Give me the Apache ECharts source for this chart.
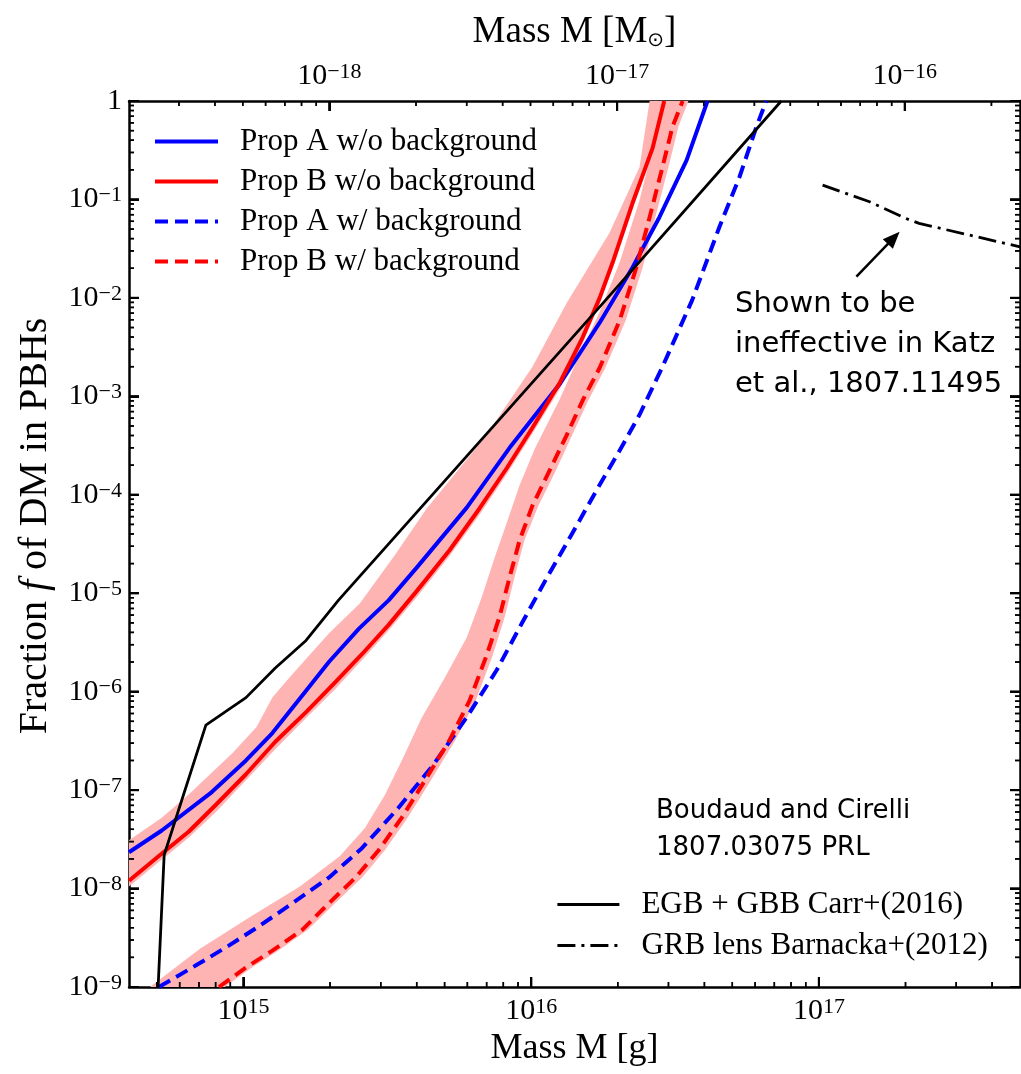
<!DOCTYPE html>
<html>
<head>
<meta charset="utf-8">
<script src="https://cdn.jsdelivr.net/npm/echarts@6/dist/echarts.min.js"></script>
<style>
html,body{margin:0;padding:0;background:#ffffff;}
#chart{width:1021px;height:1074px;}
</style>
</head>
<body>
<div id="chart"></div>
<script>
// ---------------- data ----------------
const MSUN_G = 1.989e33;           // grams per solar mass (top axis)
const massMin = 4e14, massMax = 5e17;
const fMin = 1e-9, fMax = 1;

const xMajorTicks = [1e15, 1e16, 1e17];
const xMinorTicks = [5e14,6e14,7e14,8e14,9e14,2e15,3e15,4e15,5e15,6e15,7e15,8e15,9e15,
  2e16,3e16,4e16,5e16,6e16,7e16,8e16,9e16,2e17,3e17,4e17];
const topMajorTicks = [1e-18, 1e-17, 1e-16];
const topMinorTicks = [3e-19,4e-19,5e-19,6e-19,7e-19,8e-19,9e-19,2e-18,3e-18,4e-18,5e-18,6e-18,7e-18,8e-18,9e-18,
  2e-17,3e-17,4e-17,5e-17,6e-17,7e-17,8e-17,9e-17,2e-16];
const yMajorTicks = [1e-9,1e-8,1e-7,1e-6,1e-5,1e-4,1e-3,1e-2,1e-1,1];
const yMinorMultipliers = [2,3,4,5,6,7,8,9];
const yMinorDecades = [1e-9,1e-8,1e-7,1e-6,1e-5,1e-4,1e-3,1e-2,1e-1];

const propANoBgM = [4.0e14,5.2e14,7.76e14,1.02e15,1.26e15,1.65e15,1.98e15,2.52e15,3.20e15,4.0e15,5.97e15,8.41e15,1.26e16,1.73e16,2.25e16,2.79e16,3.47e16,4.1e16];
const propANoBgF = [2.34e-8,3.89e-8,9.55e-8,2.0e-7,3.8e-7,1.02e-6,2.0e-6,4.37e-6,8.5e-6,1.82e-5,7.4e-5,3.0e-4,1.35e-3,5.6e-3,2.04e-2,6.6e-2,0.251,1.0];

const propBNoBgM = [4.0e14,5.08e14,6.46e14,8.02e14,1.02e15,1.29e15,1.65e15,2.09e15,2.58e15,3.20e15,4.0e15,5.21e15,6.62e15,8.22e15,1.01e16,1.26e16,1.51e16,1.73e16,1.92e16,2.25e16,2.64e16,2.90e16];
const propBNoBgF = [1.2e-8,2.14e-8,3.8e-8,7.1e-8,1.45e-7,3.1e-7,6.2e-7,1.26e-6,2.4e-6,4.8e-6,1.05e-5,2.75e-5,7.3e-5,1.86e-4,4.8e-4,1.39e-3,3.98e-3,1.0e-2,2.3e-2,9.2e-2,0.33,1.0];

const propABgM = [5.08e14,6.84e14,8.89e14,1.14e15,1.45e15,1.98e15,2.58e15,3.44e15,4.55e15,5.97e15,7.59e15,9.33e15,1.13e16,1.39e16,1.69e16,2.03e16,2.38e16,2.86e16,3.63e16,4.51e16,5.30e16,6.07e16,6.56e16];
const propABgF = [1e-9,1.66e-9,2.63e-9,4.2e-9,6.8e-9,1.29e-8,2.57e-8,6.5e-8,1.78e-7,5.5e-7,1.66e-6,5.1e-6,1.41e-5,4.07e-5,1.12e-4,2.82e-4,6.5e-4,2.0e-3,9.55e-3,5.25e-2,0.17,0.55,1.0];

const propBBgM = [8.22e14,1.02e15,1.26e15,1.60e15,1.98e15,2.45e15,2.95e15,3.55e15,4.34e15,5.21e15,6.11e15,7.0e15,7.76e15,8.41e15,9.12e15,1.01e16,1.16e16,1.33e16,1.51e16,1.73e16,2.03e16,2.32e16,2.58e16,2.86e16,3.10e16,3.36e16];
const propBBgF = [1e-9,1.58e-9,2.34e-9,3.80e-9,7.08e-9,1.29e-8,2.45e-8,5.25e-8,1.35e-7,3.24e-7,8.13e-7,2.34e-6,5.75e-6,1.45e-5,3.47e-5,7.76e-5,1.78e-4,4.07e-4,9.1e-4,1.95e-3,5.9e-3,2.04e-2,6.6e-2,0.214,0.55,1.0];

const carrM = [5.05e14,5.30e14,7.40e14,1.02e15,1.29e15,1.65e15,2.14e15,1.73e16,7.40e16];
const carrF = [1e-9,2.19e-8,4.57e-7,8.7e-7,1.74e-6,3.31e-6,8.5e-6,8.1e-3,1.0];

const barnackaM = [1.03e17,1.50e17,2.0e17,2.23e17,3.33e17,5.0e17];
const barnackaF = [0.140,0.0948,0.0643,0.0571,0.0435,0.033];

const bandNoBgUpperM = [4.0e14,5.2e14,6.52e14,9.18e14,1.11e15,1.26e15,1.45e15,1.98e15,2.54e15,3.36e15,4.34e15,5.64e15,7.0e15,1.01e16,1.33e16,1.87e16,2.38e16,2.58e16];
const bandNoBgUpperF = [3.09e-8,5.25e-8,9.3e-8,2.4e-7,4.37e-7,8.7e-7,1.41e-6,3.9e-6,7.9e-6,2.45e-5,7.3e-5,1.86e-4,4.07e-4,2.0e-3,8.9e-3,4.57e-2,0.214,1.0];
const bandNoBgLowerM = [4.0e14,5.08e14,6.46e14,8.02e14,1.02e15,1.29e15,1.65e15,2.09e15,2.58e15,3.20e15,4.0e15,5.21e15,6.62e15,8.22e15,1.01e16,1.26e16,1.51e16,1.73e16,1.92e16,2.25e16,2.64e16,3.02e16];
const bandNoBgLowerF = [1.05e-8,1.86e-8,3.3e-8,6.0e-8,1.26e-7,2.6e-7,5.4e-7,1.07e-6,2.09e-6,4.2e-6,9.1e-6,2.4e-5,6.3e-5,1.62e-4,4.2e-4,1.2e-3,3.47e-3,8.7e-3,2.0e-2,7.9e-2,0.29,1.0];

const bandBgUpperM = [4.73e14,7.06e14,1.05e15,1.57e15,2.16e15,2.64e15,3.10e15,3.55e15,4.16e15,5.0e15,5.97e15,6.73e15,7.46e15,8.28e15,9.12e15,1.03e16,1.26e16,1.47e16,1.73e16,2.03e16,2.38e16,2.68e16,2.84e16];
const bandBgUpperF = [1e-9,2.45e-9,5.1e-9,1.05e-8,2.13e-8,4.1e-8,8.9e-8,2.0e-7,5.4e-7,1.38e-6,3.55e-6,9.1e-6,2.29e-5,5.5e-5,1.26e-4,2.95e-4,9.5e-4,2.63e-3,7.2e-3,2.3e-2,9.8e-2,0.40,1.0];
const bandBgLowerM = [8.61e14,1.07e15,1.32e15,1.67e15,2.08e15,2.58e15,3.10e15,3.72e15,4.55e15,5.46e15,6.41e15,7.35e15,8.09e15,8.75e15,9.48e15,1.06e16,1.22e16,1.39e16,1.58e16,1.81e16,2.13e16,2.44e16,2.70e16,3.0e16,3.25e16,3.52e16];
const bandBgLowerF = [1e-9,1.58e-9,2.34e-9,3.8e-9,7.1e-9,1.29e-8,2.45e-8,5.25e-8,1.35e-7,3.24e-7,8.1e-7,2.34e-6,5.75e-6,1.45e-5,3.47e-5,7.8e-5,1.78e-4,4.07e-4,9.1e-4,1.95e-3,5.9e-3,2.04e-2,6.6e-2,0.214,0.55,1.0];

const arrowM = [1.35e17, 1.82e17];
const arrowF = [0.0164, 0.0407];

const legendTopNames = ['Prop A w/o background','Prop B w/o background','Prop A w/ background','Prop B w/ background'];
const legendBottomNames = ['EGB + GBB Carr+(2016)','GRB lens Barnacka+(2012)'];

// ---------------- helpers ----------------
const SERIF = '"Liberation Serif", "DejaVu Serif", serif';
const HAND = '"DejaVu Sans", "Noto Sans", sans-serif';
const BAND = '#ffb4b4';

const yMinorTicks = [];
yMinorDecades.forEach(function(d){ yMinorMultipliers.forEach(function(k){ yMinorTicks.push(k * d); }); });

function pairs(ms, fs) { return ms.map(function(m, i){ return [m, fs[i]]; }); }
function keepIn(arr, lo, hi) { return arr.filter(function(v){ return v >= lo * 0.9999 && v <= hi * 1.0001; }); }

function powLabel(v) {
  const e = Math.round(Math.log10(v));
  if (e === 0) return '{b|1}';
  return '{b|10}{s|' + String(e).replace('-', '\u2212') + '}';
}
const labelRich = {
  b: { fontFamily: SERIF, fontSize: 30, lineHeight: 30, color: '#000' },
  s: { fontFamily: SERIF, fontSize: 22, lineHeight: 12, verticalAlign: 'top', color: '#000' }
};

// tick items: [mass, f, side(0 bottom,1 top,2 left,3 right), length, width]
const tickItems = [];
keepIn(xMajorTicks, massMin, massMax).forEach(function(m){ tickItems.push([m, fMin, 0, 10, 2]); });
keepIn(xMinorTicks, massMin, massMax).forEach(function(m){ tickItems.push([m, fMin, 0, 5, 1.5]); });
keepIn(topMajorTicks, massMin / MSUN_G, massMax / MSUN_G).forEach(function(v){ tickItems.push([v * MSUN_G, fMax, 1, 10, 2]); });
keepIn(topMinorTicks, massMin / MSUN_G, massMax / MSUN_G).forEach(function(v){ tickItems.push([v * MSUN_G, fMax, 1, 5, 1.5]); });
keepIn(yMajorTicks, fMin, fMax).forEach(function(f){ tickItems.push([massMin, f, 2, 10, 2]); tickItems.push([massMax, f, 3, 10, 2]); });
keepIn(yMinorTicks, fMin, fMax).forEach(function(f){ tickItems.push([massMin, f, 2, 5, 1.5]); tickItems.push([massMax, f, 3, 5, 1.5]); });

function tickRectPoints(p, side, len, w) {
  let x, y, ww, hh;
  if (side === 0) { x = p[0] - w / 2; y = p[1] - len; ww = w; hh = len; }
  else if (side === 1) { x = p[0] - w / 2; y = p[1]; ww = w; hh = len; }
  else if (side === 2) { x = p[0]; y = p[1] - w / 2; ww = len; hh = w; }
  else { x = p[0] - len; y = p[1] - w / 2; ww = len; hh = w; }
  return [[x, y], [x + ww, y], [x + ww, y + hh], [x, y + hh]];
}

function bandSeries(upM, upF, loM, loF) {
  return {
    type: 'custom', coordinateSystem: 'cartesian2d', xAxisIndex: 0, yAxisIndex: 0,
    silent: true, z: 1,
    data: [[upM[0], upF[0]]],
    renderItem: function(params, api) {
      const pts = [];
      for (let i = 0; i < upM.length; i++) pts.push(api.coord([upM[i], upF[i]]));
      for (let i = loM.length - 1; i >= 0; i--) pts.push(api.coord([loM[i], loF[i]]));
      const cs = params.coordSys;
      return {
        type: 'polygon', shape: { points: pts }, style: { fill: BAND, stroke: null },
        clipPath: { type: 'rect', shape: { x: cs.x, y: cs.y, width: cs.width, height: cs.height } }
      };
    }
  };
}

function tickSeries() {
  return {
    type: 'custom', coordinateSystem: 'cartesian2d', xAxisIndex: 0, yAxisIndex: 0,
    silent: true, z: 9, clip: false,
    encode: { x: 0, y: 1 },
    data: tickItems,
    renderItem: function(params, api) {
      const p = api.coord([api.value(0), api.value(1)]);
      const pts = tickRectPoints(p, api.value(2), api.value(3), api.value(4));
      return { type: 'polygon', shape: { points: pts }, style: { fill: '#000', stroke: null } };
    }
  };
}

function lineSeries(name, ms, fs, color, width, type, z) {
  return {
    name: name, type: 'line', xAxisIndex: 0, yAxisIndex: 0, data: pairs(ms, fs),
    symbol: 'none', showSymbol: false, smooth: false, clip: true, z: z,
    lineStyle: { color: color, width: width, type: type, cap: 'butt', join: 'round' },
    itemStyle: { color: color },
    emphasis: { disabled: true }
  };
}

const axisLineStyle = { color: '#000', width: 2.5 };
function majorTick() { return { show: true, inside: true, length: 10, lineStyle: { color: '#000', width: 2 } }; }
function logXAxis(pos, min, max, extra) {
  return Object.assign({
    type: 'log', position: pos, min: min, max: max, gridIndex: 0,
    axisLine: { show: true, onZero: false, lineStyle: axisLineStyle },
    axisTick: majorTick(),
    axisLabel: { show: true, formatter: powLabel, rich: labelRich, margin: pos === 'top' ? 10 : 9,
      showMinLabel: false, showMaxLabel: false },
    splitLine: { show: false }
  }, extra || {});
}

const textGraphics = [
  { type: 'text', x: 35, y: 526, rotation: Math.PI / 2, z: 10, silent: true,
    style: { text: '{a|Fraction }{i|f}{a| of DM in PBHs}', align: 'center', verticalAlign: 'middle',
      rich: { a: { fontFamily: SERIF, fontSize: 40, fill: '#000' }, i: { fontFamily: SERIF, fontSize: 40, fontStyle: 'italic', fill: '#000' } } } },
  { type: 'text', left: 735, top: 284, z: 10, silent: true, style: { text: 'Shown to be\nineffective in Katz\net al., 1807.11495', font: '29px ' + HAND, fill: '#000', lineHeight: 40 } },
  { type: 'text', left: 656, top: 793, z: 10, silent: true, style: { text: 'Boudaud and Cirelli\n1807.03075 PRL', font: '26px ' + HAND, fill: '#000', lineHeight: 37 } }
];

const chart = echarts.init(document.getElementById('chart'));
const option = {
  animation: false,
  backgroundColor: '#ffffff',
  grid: { left: 129, top: 101, width: 891, height: 886, containLabel: false, outerBoundsMode: 'none' },
  xAxis: [
    logXAxis('bottom', massMin, massMax, {
      name: 'Mass M [g]', nameLocation: 'middle', nameGap: 44,
      nameTextStyle: { fontFamily: SERIF, fontSize: 36, color: '#000' }
    }),
    logXAxis('top', massMin / MSUN_G, massMax / MSUN_G, {
      name: '{a|Mass M [M}{s|\u2299}{a|]}', nameLocation: 'middle', nameGap: 50,
      nameTextStyle: { rich: {
        a: { fontFamily: SERIF, fontSize: 37, color: '#000' },
        s: { fontFamily: '"DejaVu Sans", sans-serif', fontSize: 20, verticalAlign: 'bottom', lineHeight: 30, color: '#000' }
      } }
    })
  ],
  yAxis: [
    {
      type: 'log', position: 'left', min: fMin, max: fMax, gridIndex: 0,
      axisLine: { show: true, onZero: false, lineStyle: axisLineStyle },
      axisTick: majorTick(),
      axisLabel: { show: true, formatter: powLabel, rich: labelRich, margin: 7 },
      splitLine: { show: false }
    },
    {
      type: 'log', position: 'right', min: fMin, max: fMax, gridIndex: 0,
      axisLine: { show: true, onZero: false, lineStyle: axisLineStyle },
      axisTick: majorTick(), axisLabel: { show: false }, splitLine: { show: false }
    }
  ],
  legend: [
    {
      data: legendTopNames, left: 153, top: 126, orient: 'vertical',
      itemWidth: 63, itemHeight: 14, itemGap: 9, padding: 0, selectedMode: false,
      itemStyle: { opacity: 0, borderWidth: 0 },
      lineStyle: { width: 4 },
      textStyle: { fontFamily: SERIF, fontSize: 31, lineHeight: 30, color: '#000', padding: [0, 0, 0, 17] }
    },
    {
      data: legendBottomNames, left: 556, top: 889, orient: 'vertical',
      itemWidth: 62, itemHeight: 14, itemGap: 10, padding: 0, selectedMode: false,
      itemStyle: { opacity: 0, borderWidth: 0 },
      lineStyle: { width: 2.8 },
      textStyle: { fontFamily: SERIF, fontSize: 31, lineHeight: 30, color: '#000', padding: [0, 0, 0, 17] }
    }
  ],
  series: [
    bandSeries(bandNoBgUpperM, bandNoBgUpperF, bandNoBgLowerM, bandNoBgLowerF),
    bandSeries(bandBgUpperM, bandBgUpperF, bandBgLowerM, bandBgLowerF),
    lineSeries(legendTopNames[0], propANoBgM, propANoBgF, '#0000ff', 4, 'solid', 3),
    lineSeries(legendTopNames[1], propBNoBgM, propBNoBgF, '#ff0000', 4, 'solid', 3),
    lineSeries(legendTopNames[2], propABgM, propABgF, '#0000ff', 4, [13, 7], 3),
    lineSeries(legendTopNames[3], propBBgM, propBBgF, '#ff0000', 4, [13, 7], 3),
    lineSeries(legendBottomNames[0], carrM, carrF, '#000000', 2.8, 'solid', 4),
    Object.assign(lineSeries(legendBottomNames[1], barnackaM, barnackaF, '#000000', 2.8, [18, 6, 3, 6], 4), {
      markLine: {
        silent: true, animation: false,
        symbol: ['none', 'triangle'], symbolSize: [14, 17],
        label: { show: false },
        lineStyle: { color: '#000', width: 2.5, type: 'solid' },
        data: [[{ coord: [arrowM[0], arrowF[0]] }, { coord: [arrowM[1], arrowF[1]] }]]
      }
    }),
    tickSeries()
  ],
  graphic: textGraphics
};
chart.setOption(option);

// second, independent way of placing the same ticks (through the series' own coordinate conversion)
try {
  const rects = [];
  tickItems.forEach(function(t) {
    const p = chart.convertToPixel({ seriesIndex: 2 }, [t[0], t[1]]);
    if (p && isFinite(p[0]) && isFinite(p[1])) {
      rects.push({ type: 'polygon', z: 30, silent: true, shape: { points: tickRectPoints(p, t[2], t[3], t[4]) }, style: { fill: '#000' } });
    }
  });
  if (rects.length) chart.setOption({ graphic: textGraphics.concat(rects) });
} catch (e) { /* keep chart as is */ }
</script>
</body>
</html>
